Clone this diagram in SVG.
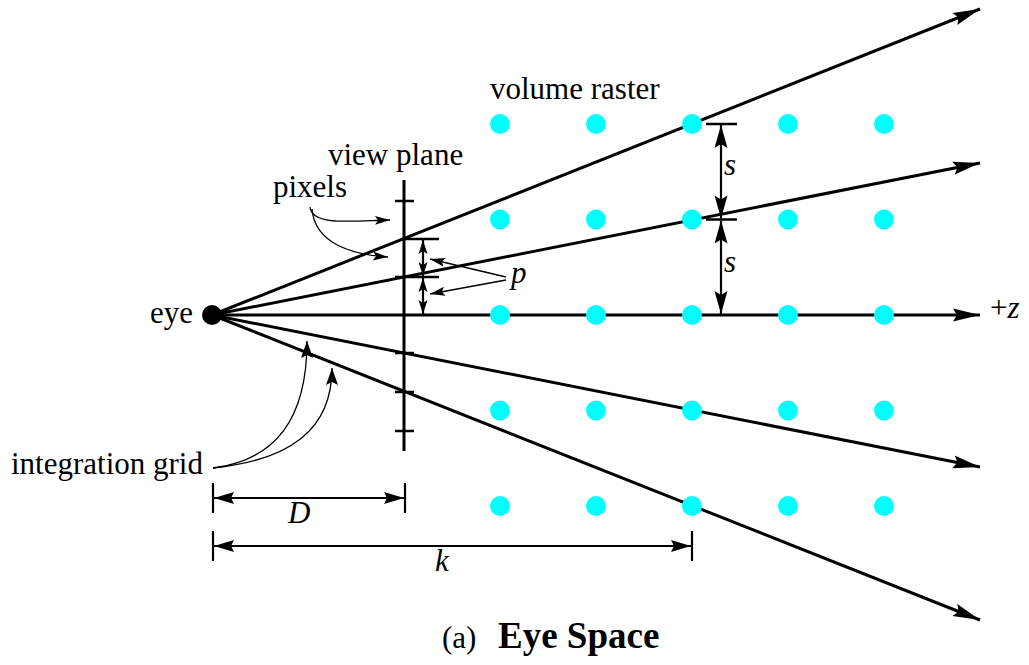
<svg xmlns="http://www.w3.org/2000/svg" width="1029" height="665" viewBox="0 0 1029 665">
<style>
text{font-family:"Liberation Serif","Times New Roman",serif;font-size:31px;fill:#000}
.it{font-style:italic}
.ray{stroke:#000;stroke-width:3;fill:none;marker-end:url(#big)}
.vp{stroke:#000;stroke-width:3;fill:none}
.tick{stroke:#000;stroke-width:2.5;fill:none}
.dim{stroke:#000;stroke-width:2.2;fill:none}
.lead{stroke:#000;stroke-width:1.3;fill:none}
.dot{fill:#00ffff}
</style>
<defs>
<marker id="big" markerUnits="userSpaceOnUse" viewBox="-28 -7 29 14" refX="0" refY="0" markerWidth="29" markerHeight="14" orient="auto"><path d="M0,0 L-27,-6.5 L-23,0 L-27,6.5 Z" fill="#000"/></marker>
<marker id="dimA" markerUnits="userSpaceOnUse" viewBox="-21 -7 22 14" refX="0" refY="0" markerWidth="22" markerHeight="14" orient="auto-start-reverse"><path d="M0,0 L-20,-6 L-17,0 L-20,6 Z" fill="#000"/></marker>
<marker id="sA" markerUnits="userSpaceOnUse" viewBox="-24 -7 25 14" refX="0" refY="0" markerWidth="25" markerHeight="14" orient="auto-start-reverse"><path d="M0,0 L-23,-6.5 L-19,0 L-23,6.5 Z" fill="#000"/></marker>
<marker id="pA" markerUnits="userSpaceOnUse" viewBox="-15 -5 16 10" refX="0" refY="0" markerWidth="16" markerHeight="10" orient="auto-start-reverse"><path d="M0,0 L-14,-4.5 L-11,0 L-14,4.5 Z" fill="#000"/></marker>
<marker id="lA" markerUnits="userSpaceOnUse" viewBox="-19 -7 20 14" refX="0" refY="0" markerWidth="20" markerHeight="14" orient="auto"><path d="M0,0 L-17,-6 L-14,0 L-17,6 Z" fill="#000"/></marker>
<marker id="lB" markerUnits="userSpaceOnUse" viewBox="-16 -6 17 12" refX="0" refY="0" markerWidth="17" markerHeight="12" orient="auto"><path d="M0,0 L-15,-4.5 L-12,0 L-15,4.5 Z" fill="#000"/></marker>
</defs>

<g id="connectors">
<line class="ray" x1="212" y1="315" x2="980" y2="9"/>
<line class="ray" x1="212" y1="315" x2="980" y2="163"/>
<line class="ray" x1="212" y1="315" x2="980" y2="315"/>
<line class="ray" x1="212" y1="315" x2="980" y2="467"/>
<line class="ray" x1="212" y1="315" x2="980" y2="620"/>
</g>

<g id="volume-raster">
<circle class="dot" cx="500" cy="124" r="10"/><circle class="dot" cx="596" cy="124" r="10"/><circle class="dot" cx="692" cy="124" r="10"/><circle class="dot" cx="788" cy="124" r="10"/><circle class="dot" cx="884" cy="124" r="10"/>
<circle class="dot" cx="500" cy="219.5" r="10"/><circle class="dot" cx="596" cy="219.5" r="10"/><circle class="dot" cx="692" cy="219.5" r="10"/><circle class="dot" cx="788" cy="219.5" r="10"/><circle class="dot" cx="884" cy="219.5" r="10"/>
<circle class="dot" cx="500" cy="315" r="10"/><circle class="dot" cx="596" cy="315" r="10"/><circle class="dot" cx="692" cy="315" r="10"/><circle class="dot" cx="788" cy="315" r="10"/><circle class="dot" cx="884" cy="315" r="10"/>
<circle class="dot" cx="500" cy="410.5" r="10"/><circle class="dot" cx="596" cy="410.5" r="10"/><circle class="dot" cx="692" cy="410.5" r="10"/><circle class="dot" cx="788" cy="410.5" r="10"/><circle class="dot" cx="884" cy="410.5" r="10"/>
<circle class="dot" cx="500" cy="506" r="10"/><circle class="dot" cx="596" cy="506" r="10"/><circle class="dot" cx="692" cy="506" r="10"/><circle class="dot" cx="788" cy="506" r="10"/><circle class="dot" cx="884" cy="506" r="10"/>
<text x="490" y="99">volume raster</text>
</g>

<g id="eye">
<circle cx="212" cy="315" r="10" fill="#000"/>
<text x="150" y="323">eye</text>
</g>

<g id="view-plane">
<line class="vp" x1="404" y1="180" x2="404" y2="451"/>
<line class="tick" x1="395" y1="201" x2="414" y2="201"/>
<line class="tick" x1="404" y1="239" x2="439" y2="239"/>
<line class="tick" x1="395" y1="277" x2="439" y2="277"/>
<line class="tick" x1="395" y1="353" x2="414" y2="353"/>
<line class="tick" x1="395" y1="392" x2="414" y2="392"/>
<line class="tick" x1="395" y1="431" x2="414" y2="431"/>
<text x="328" y="165">view plane</text>
</g>

<g id="pixels">
<path class="lead" d="M310,207 C312,226 350,221 390,220" marker-end="url(#lB)"/>
<path class="lead" d="M312,209 C315,245 355,255 388,257" marker-end="url(#lB)"/>
<text x="273" y="197">pixels</text>
</g>

<g id="p-spacing">
<line class="dim" x1="423" y1="240" x2="423" y2="276" marker-start="url(#pA)" marker-end="url(#pA)"/>
<line class="dim" x1="423" y1="278" x2="423" y2="314" marker-start="url(#pA)" marker-end="url(#pA)"/>
<line class="lead" x1="506" y1="277" x2="430" y2="259" marker-end="url(#lB)"/>
<line class="lead" x1="506" y1="280" x2="430" y2="294" marker-end="url(#lB)"/>
<text class="it" x="511" y="283">p</text>
</g>

<g id="s-spacing">
<line class="tick" x1="706" y1="124" x2="737" y2="124"/>
<line class="tick" x1="706" y1="219.5" x2="737" y2="219.5"/>
<line class="dim" x1="721" y1="125" x2="721" y2="218.5" marker-start="url(#sA)" marker-end="url(#sA)"/>
<line class="dim" x1="721" y1="220.5" x2="721" y2="314" marker-start="url(#sA)" marker-end="url(#sA)"/>
<text class="it" x="724" y="175">s</text>
<text class="it" x="724" y="272">s</text>
</g>

<g id="plus-z">
<text x="990" y="318">+<tspan class="it">z</tspan></text>
</g>

<g id="integration-grid">
<path class="lead" d="M213,468 C275,460 307,420 307,341" marker-end="url(#lA)"/>
<path class="lead" d="M213,468 C290,460 332,430 332,368" marker-end="url(#lA)"/>
<text x="11" y="474">integration grid</text>
</g>

<g id="dim-D">
<line class="dim" x1="213" y1="483" x2="213" y2="513"/>
<line class="dim" x1="405" y1="483" x2="405" y2="513"/>
<line class="dim" x1="214" y1="498" x2="404" y2="498" marker-start="url(#dimA)" marker-end="url(#dimA)"/>
<text class="it" x="288" y="523">D</text>
</g>

<g id="dim-k">
<line class="dim" x1="213" y1="531" x2="213" y2="561"/>
<line class="dim" x1="692" y1="531" x2="692" y2="561"/>
<line class="dim" x1="214" y1="546" x2="691" y2="546" marker-start="url(#dimA)" marker-end="url(#dimA)"/>
<text class="it" x="435" y="571">k</text>
</g>

<g id="caption">
<text x="442" y="648">(a)</text>
<text x="498" y="648" style="font-weight:bold;font-size:37px">Eye Space</text>
</g>
</svg>
